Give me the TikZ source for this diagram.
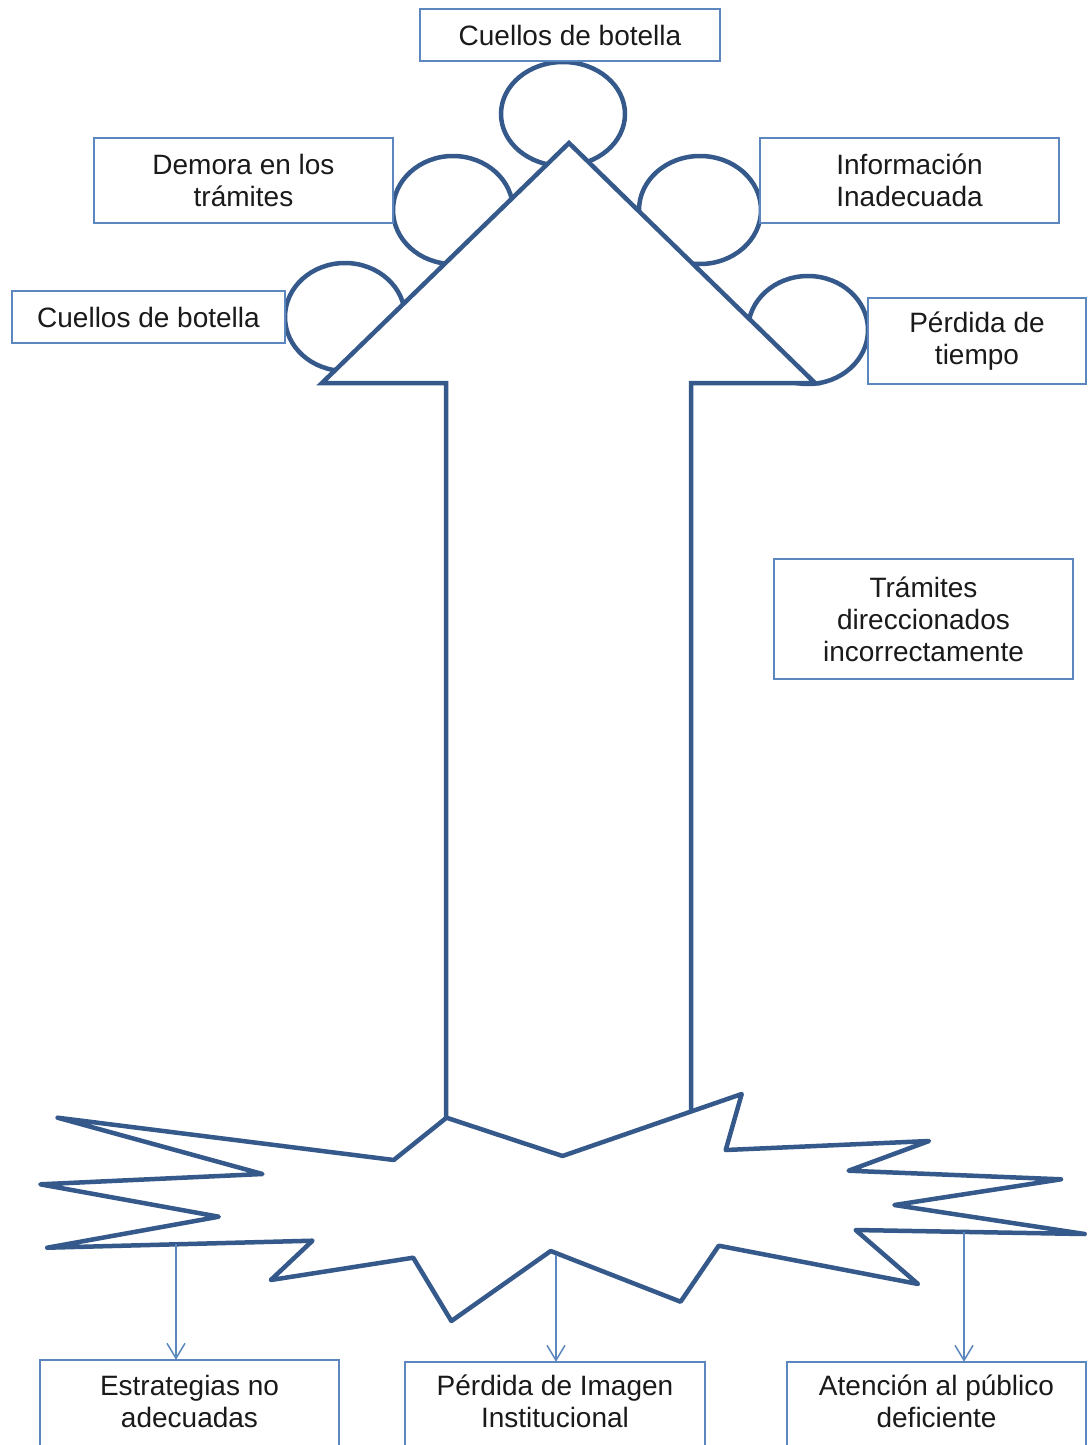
\documentclass[tikz,border=0pt]{standalone}
\usepackage{fontspec}
\setmainfont{Liberation Sans}
\usetikzlibrary{arrows.meta,calc}
\definecolor{shapeblue}{HTML}{34598A}
\definecolor{boxblue}{HTML}{5B86BE}
\definecolor{txtgray}{HTML}{1A1A1A}
\begin{document}
\begin{tikzpicture}[x=1pt,y=-1pt,
  txt/.style={align=center, inner sep=0pt, text=txtgray, font=\fontsize{28}{32}\selectfont},
  box/.style={txt, draw=boxblue, line width=1.8pt, fill=white},
  boxline/.style={draw=boxblue, line width=1.8pt},
  bub/.style={draw=shapeblue, line width=4.5pt, fill=white},
  bigshape/.style={draw=shapeblue, line width=4.5pt, fill=white, line join=miter},
  burst/.style={draw=shapeblue, line width=4.5pt, fill=white, line join=round},
  link/.style={draw=boxblue, line width=1.5pt, -{Straight Barb[length=15pt,width=18pt]}}]
\useasboundingbox (0,0) rectangle (1089,1445);
\clip (0,0) rectangle (1089,1445);
\fill[white] (0,0) rectangle (1089,1445);

% bubbles behind the arrow head
\draw[bub] (563,114) ellipse [x radius=62, y radius=52];
\draw[bub] (453,210) ellipse [x radius=60, y radius=54];
\draw[bub] (345,317) ellipse [x radius=60, y radius=54];
\draw[bub] (700,210) ellipse [x radius=61, y radius=54];
\draw[bub] (808,330) ellipse [x radius=60, y radius=54];

% big arrow
\draw[bigshape] (569,143) -- (815,383) -- (691,383) -- (691,1200) -- (446,1200) -- (446,383) -- (322,383) -- cycle;

% explosion
\draw[burst] (446.5,1117.7) -- (393.75,1160) -- (57.6,1117.7) -- (262.5,1174) -- (40.3,1184.3)
  -- (218.75,1216.7) -- (47.2,1247.7) -- (312.5,1240.7) -- (270.8,1280) -- (413.2,1257.7)
  -- (451.4,1321) -- (550.7,1251) -- (680.6,1301.7) -- (718.75,1245.7) -- (918,1284)
  -- (855.6,1230) -- (1084.7,1234) -- (894.4,1205) -- (1061,1179.3) -- (848.6,1170.7)
  -- (929,1141) -- (725.7,1150) -- (741.7,1094) -- (562.5,1156) -- cycle;

% label boxes
\node[box, minimum width=300, minimum height=52] (t1) at (570,35) {Cuellos de botella};
\node[box, minimum width=299, minimum height=85] (t2) at (243.5,180.5) {Demora en los\\trámites};
\node[box, minimum width=299, minimum height=85] (t3) at (909.5,180.5) {Información\\Inadecuada};
\node[box, minimum width=273, minimum height=52] (t4) at (148.5,317) {Cuellos de botella};
\node[box, minimum width=218, minimum height=86] (t5) at (977,341) {Pérdida de\\tiempo};
\node[box, minimum width=299, minimum height=120] (t6) at (923.5,619) {Trámites\\direccionados\\incorrectamente};

% bottom boxes (open at the bottom edge of the picture)
\node[txt, minimum width=299, minimum height=83] (b1) at (189.5,1401.5) {Estrategias no\\adecuadas};
\node[txt, minimum width=300, minimum height=79] (b2) at (555,1401.5) {Pérdida de Imagen\\Institucional};
\node[txt, minimum width=299, minimum height=79] (b3) at (936.5,1401.5) {Atención al público\\deficiente};
\draw[boxline] (b1.north west) ++(0,120) -- (b1.north west) -- (b1.north east) -- ++(0,120);
\draw[boxline] (b2.north west) ++(0,120) -- (b2.north west) -- (b2.north east) -- ++(0,120);
\draw[boxline] (b3.north west) ++(0,120) -- (b3.north west) -- (b3.north east) -- ++(0,120);

% connectors from the explosion
\coordinate (s1) at (176,1244);
\coordinate (s2) at (556,1255);
\coordinate (s3) at (964,1232);
\draw[link] (s1) -- (s1 |- b1.north);
\draw[link] (s2) -- (s2 |- b2.north);
\draw[link] (s3) -- (s3 |- b3.north);
\end{tikzpicture}
\end{document}
